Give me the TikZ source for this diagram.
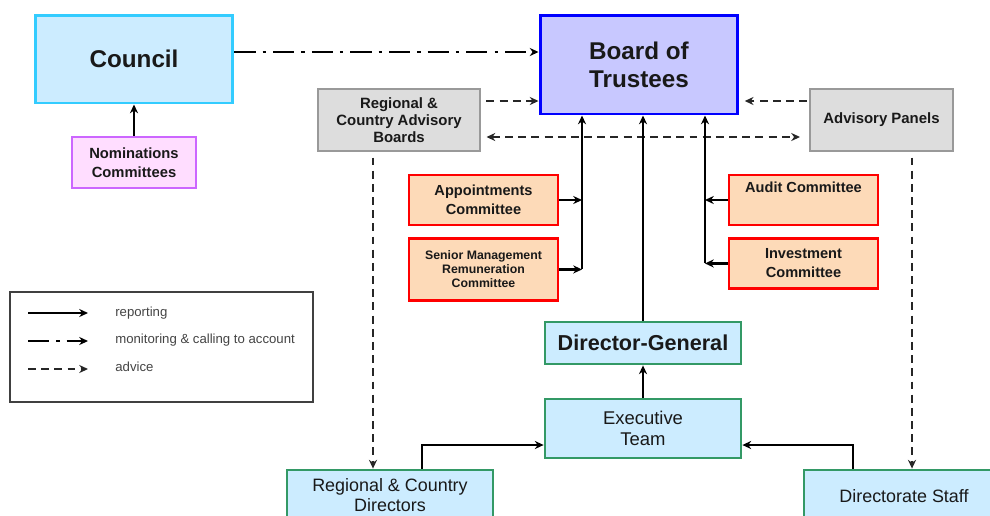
\documentclass[tikz,border=0pt]{standalone}
\usepackage{fontspec}
\setmainfont{Liberation Sans}
\usepackage{tikz}
\usetikzlibrary{positioning}
\usetikzlibrary{arrows.meta}

\definecolor{paleblue}{HTML}{CCECFF}
\definecolor{cyanline}{HTML}{33CCFF}
\definecolor{palepink}{HTML}{FFDDFF}
\definecolor{violetline}{HTML}{CC66FF}
\definecolor{boardfill}{HTML}{C8C8FF}
\definecolor{advfill}{HTML}{DDDDDD}
\definecolor{advline}{HTML}{999999}
\definecolor{peach}{HTML}{FDDAB8}
\definecolor{greenline}{HTML}{339966}
\definecolor{legendgray}{HTML}{444444}

\tikzset{
  box/.style={draw, align=center, inner sep=2pt, text=black!90},
  councilbox/.style={box, fill=paleblue, draw=cyanline, line width=1.7pt,
    font=\fontsize{13.8}{16}\bfseries\selectfont},
  nombox/.style={box, fill=palepink, draw=violetline, line width=1.2pt,
    font=\fontsize{8.4}{10.8}\bfseries\selectfont},
  boardbox/.style={box, fill=boardfill, draw=blue, line width=1.7pt,
    font=\fontsize{13.8}{16}\bfseries\selectfont},
  advbox/.style={box, fill=advfill, draw=advline, line width=1.4pt,
    font=\fontsize{8.5}{9.8}\bfseries\selectfont},
  cttbox/.style={box, fill=peach, draw=red, line width=1.4pt,
    font=\fontsize{8.3}{10.8}\bfseries\selectfont},
  staffbox/.style={box, fill=paleblue, draw=greenline, line width=1.6pt,
    font=\fontsize{10.2}{11.6}\selectfont},
  report/.style={->, line width=1.2pt},
  monitor/.style={->, line width=1.2pt, dash pattern=on 12pt off 4pt on 2pt off 4pt},
  advice/.style={->, line width=0.9pt, draw=black!85, dash pattern=on 4.5pt off 3pt},
  legline/.style={line width=0.8pt},
  legtext/.style={anchor=west, text=legendgray, inner sep=0pt,
    font=\fontsize{7.5}{9}\selectfont}
}

\begin{document}
\begin{tikzpicture}[x=0.02cm,y=-0.02cm,>={Stealth[length=5pt,width=4.6pt]}]
\useasboundingbox (0,0) rectangle (990,515);

% top row
\node[councilbox, minimum width=3.96cm, minimum height=1.76cm] (council) at (134,59) {Council};
\node[nombox, minimum width=2.48cm, minimum height=1.02cm] (nom) at (134,162.5) {Nominations\\Committees};
\node[boardbox, minimum width=3.96cm, minimum height=1.98cm] (board) at (639,64.5) {Board of\\Trustees};
\node[advbox, minimum width=3.24cm, minimum height=1.24cm] (advboards) at (399,120) {Regional \&\\Country Advisory\\Boards};
\node[advbox, minimum width=2.86cm, minimum height=1.24cm] (panels) at (881.5,120) {Advisory Panels};

% committees
\node[cttbox, minimum width=2.98cm, minimum height=1cm] (appt) at (483.5,200) {Appointments\\Committee};
\node[cttbox, minimum width=2.98cm, minimum height=1.24cm, below=0.22cm of appt,
  font=\fontsize{7}{8}\bfseries\selectfont] (smr) {Senior Management\\Remuneration\\Committee};
\node[cttbox, minimum width=2.98cm, minimum height=1cm] (audit) at (803.5,200) {Audit Committee\\\strut};
\node[cttbox, minimum width=2.98cm, minimum height=1cm, below=0.22cm of audit] (invest) {Investment\\Committee};

% executive
\node[staffbox, minimum width=3.92cm, minimum height=0.84cm,
  font=\fontsize{12.3}{14}\bfseries\selectfont] (dg) at (643,343) {Director-General};
\node[staffbox, minimum width=3.92cm, minimum height=1.18cm, font=\fontsize{10.5}{12}\selectfont] (exec) at (643,428.5) {Executive\\Team};
\node[staffbox, minimum width=4.12cm, minimum height=1cm] (rcd) at (390,495) {Regional \& Country\\Directors};
\node[staffbox, minimum width=4cm, minimum height=1.04cm] (staff) at (904,496) {Directorate Staff};

% helper coordinates
\coordinate (mon) at (0,52);
\coordinate (hiadv) at (0,101);
\coordinate (loadv) at (0,137);
\coordinate (lbus) at (582,0);
\coordinate (rbus) at (705,0);
\coordinate (rcdx) at (373,0);
\coordinate (panx) at (912,0);
\coordinate (rcdup) at (422,0);
\coordinate (stup) at (853,0);
\coordinate (exin) at (0,445);

% monitoring
\draw[monitor] (council.east |- mon) -- (board.west |- mon);

% advice
\draw[advice, shorten <=3pt] (advboards.east |- hiadv) -- (board.west |- hiadv);
\draw[advice, shorten <=1pt, shorten >=3pt] (panels.west |- hiadv) -- (board.east |- hiadv);
\draw[advice, <->, shorten <=3pt, shorten >=5pt] (advboards.east |- loadv) -- (panels.west |- loadv);
\draw[advice, shorten <=3pt] (advboards.south -| rcdx) -- (rcd.north -| rcdx);
\draw[advice, shorten <=3pt] (panels.south -| panx) -- (staff.north -| panx);

% reporting
\draw[report] (nom.north) -- (council.south);
\draw[report] (appt.east) -- (appt.east -| lbus);
\draw[report] (smr.east) -- (smr.east -| lbus);
\draw[report] (smr.east -| lbus) -- (lbus |- board.south);
\draw[report] (audit.west) -- (audit.west -| rbus);
\draw[report] (invest.west) -- (invest.west -| rbus);
\draw[report] (invest.west -| rbus) -- (rbus |- board.south);
\draw[report] (dg.north) -- (dg.north |- board.south);
\draw[report] (exec.north) -- (dg.south);
\draw[report] (rcd.north -| rcdup) |- (exec.west |- exin);
\draw[report] (staff.north -| stup) |- (exec.east |- exin);

% legend
\draw[line width=0.8pt, draw=black!75] (10,292) rectangle (313,402);
\coordinate (lg1a) at (28,313);  \coordinate (lg1b) at (88,313);
\coordinate (lg2a) at (28,341);  \coordinate (lg2b) at (88,341);
\coordinate (lg3a) at (28,369);  \coordinate (lg3b) at (88,369);
\draw[report, legline] (lg1a) -- (lg1b);
\draw[monitor, legline] (lg2a) -- (lg2b);
\draw[advice, legline] (lg3a) -- (lg3b);
\node[legtext] (lgrep) at (115,313) {reporting};
\node[legtext] (lgmon) at (115,340) {monitoring \& calling to account};
\node[legtext] (lgadv) at (115,367) {advice};
\end{tikzpicture}
\end{document}
